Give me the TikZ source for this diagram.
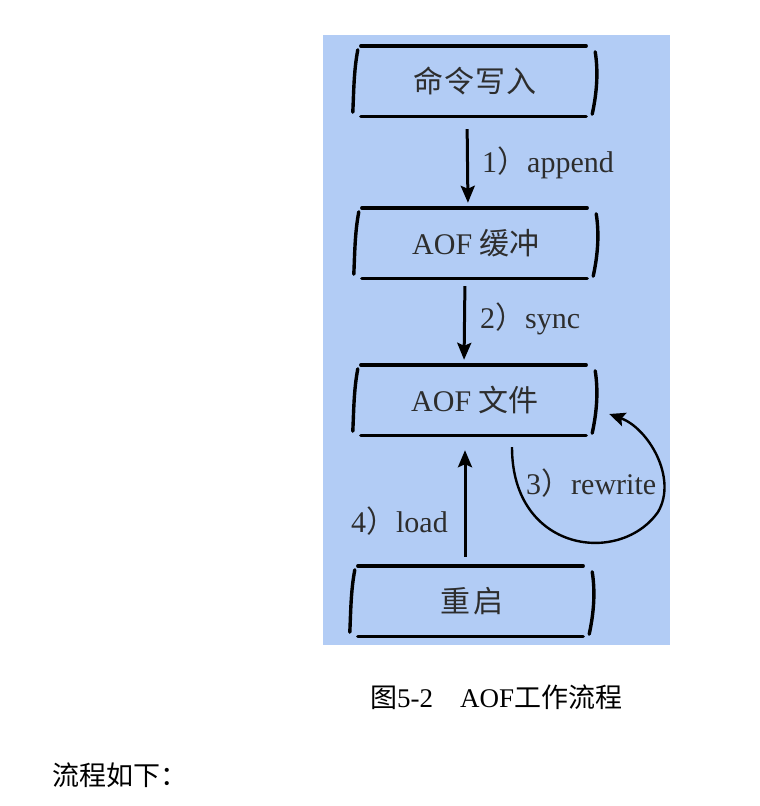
\documentclass[tikz,border=0pt]{standalone}
\usepackage{fontspec}
\setmainfont{Liberation Serif}
\newfontfamily\cjk{Noto Sans CJK SC}
\usetikzlibrary{arrows.meta}
\definecolor{bgblue}{RGB}{178,204,245}
\definecolor{ink}{RGB}{45,45,45}
\begin{document}
\begin{tikzpicture}[x=1pt,y=-1pt,
  boxnode/.style={minimum width=240pt, minimum height=70pt, inner sep=0pt, text=ink, font=\fontsize{30}{32}\selectfont},
  stroke/.style={line width=3.4pt, line cap=round, black},
  arr/.style={line width=3pt, -{Stealth[length=17pt,width=14pt,inset=3pt]}},
  arrthin/.style={line width=2.4pt, -{Stealth[length=16pt,width=14pt,inset=3pt]}},
  lbl/.style={text=ink, font=\fontsize{30}{32}\selectfont, inner sep=0pt},
  captxt/.style={text=black, font=\fontsize{27}{30}\selectfont, inner sep=0pt}
]
\useasboundingbox (0,0) rectangle (760,806);
\fill[bgblue] (323,35) rectangle (670,645);
\node[boxnode] (b1) at (475,81) {{\cjk 命\hspace{1pt}令\hspace{1pt}写\hspace{1pt}入}};
\node[boxnode] (b2) at (476,243) {AOF {\cjk 缓冲}};
\node[boxnode] (b3) at (475,400) {AOF {\cjk 文件}};
\node[boxnode] (b4) at (472,601) {{\cjk 重\hspace{4pt}启}};
\foreach \n in {b1,b2,b3,b4}{
  \draw[stroke] ([xshift=6pt]\n.north west) -- ([xshift=-9pt]\n.north east);
  \draw[stroke] ([xshift=6pt]\n.south west) -- ([xshift=-9pt]\n.south east);
  \draw[stroke] ([xshift=3pt,yshift=-4pt]\n.north west) .. controls ([xshift=-1pt,yshift=-25pt]\n.north west) and ([xshift=-1pt,yshift=25pt]\n.south west) .. ([xshift=-2pt,yshift=4pt]\n.south west);
  \draw[stroke] ([xshift=0pt,yshift=-6pt]\n.north east) .. controls ([xshift=3pt,yshift=-25pt]\n.north east) and ([xshift=2pt,yshift=25pt]\n.south east) .. ([xshift=-3pt,yshift=2pt]\n.south east);
}
\draw[arr, shorten <=13pt, shorten >=5pt] ([xshift=-8pt]b1.south) -- ([xshift=-8pt]b2.north);
\draw[arr, shorten <=8pt, shorten >=5pt] ([xshift=-11pt]b2.south) -- ([xshift=-11pt]b3.north);
\draw[arr, shorten <=9pt, shorten >=15pt] ([xshift=-7pt]b4.north) -- ([xshift=-10pt]b3.south);
\draw[arrthin] ([xshift=37pt,yshift=-12pt]b3.south) .. controls +(0,105) and (620,566) .. (658,512) .. controls (678,478) and (648,428) .. ([xshift=14pt,yshift=-14pt]b3.east);
\node[lbl, anchor=west] (l1) at (482,163) {1{\cjk ）}append};
\node[lbl, anchor=west] (l2) at (480,319) {2{\cjk ）}sync};
\node[lbl, anchor=west] (l3) at (526,483) {3{\cjk ）}rewrite};
\node[lbl, anchor=east] (l4) at (448,521) {4{\cjk ）}load};
\node[captxt, anchor=west] (fig) at (370,697) {{\cjk 图}5-2\hspace{1em}AOF{\cjk 工作流程}};
\node[captxt, anchor=west] (body) at (52,775) {{\cjk 流程如下：}};
\end{tikzpicture}
\end{document}
